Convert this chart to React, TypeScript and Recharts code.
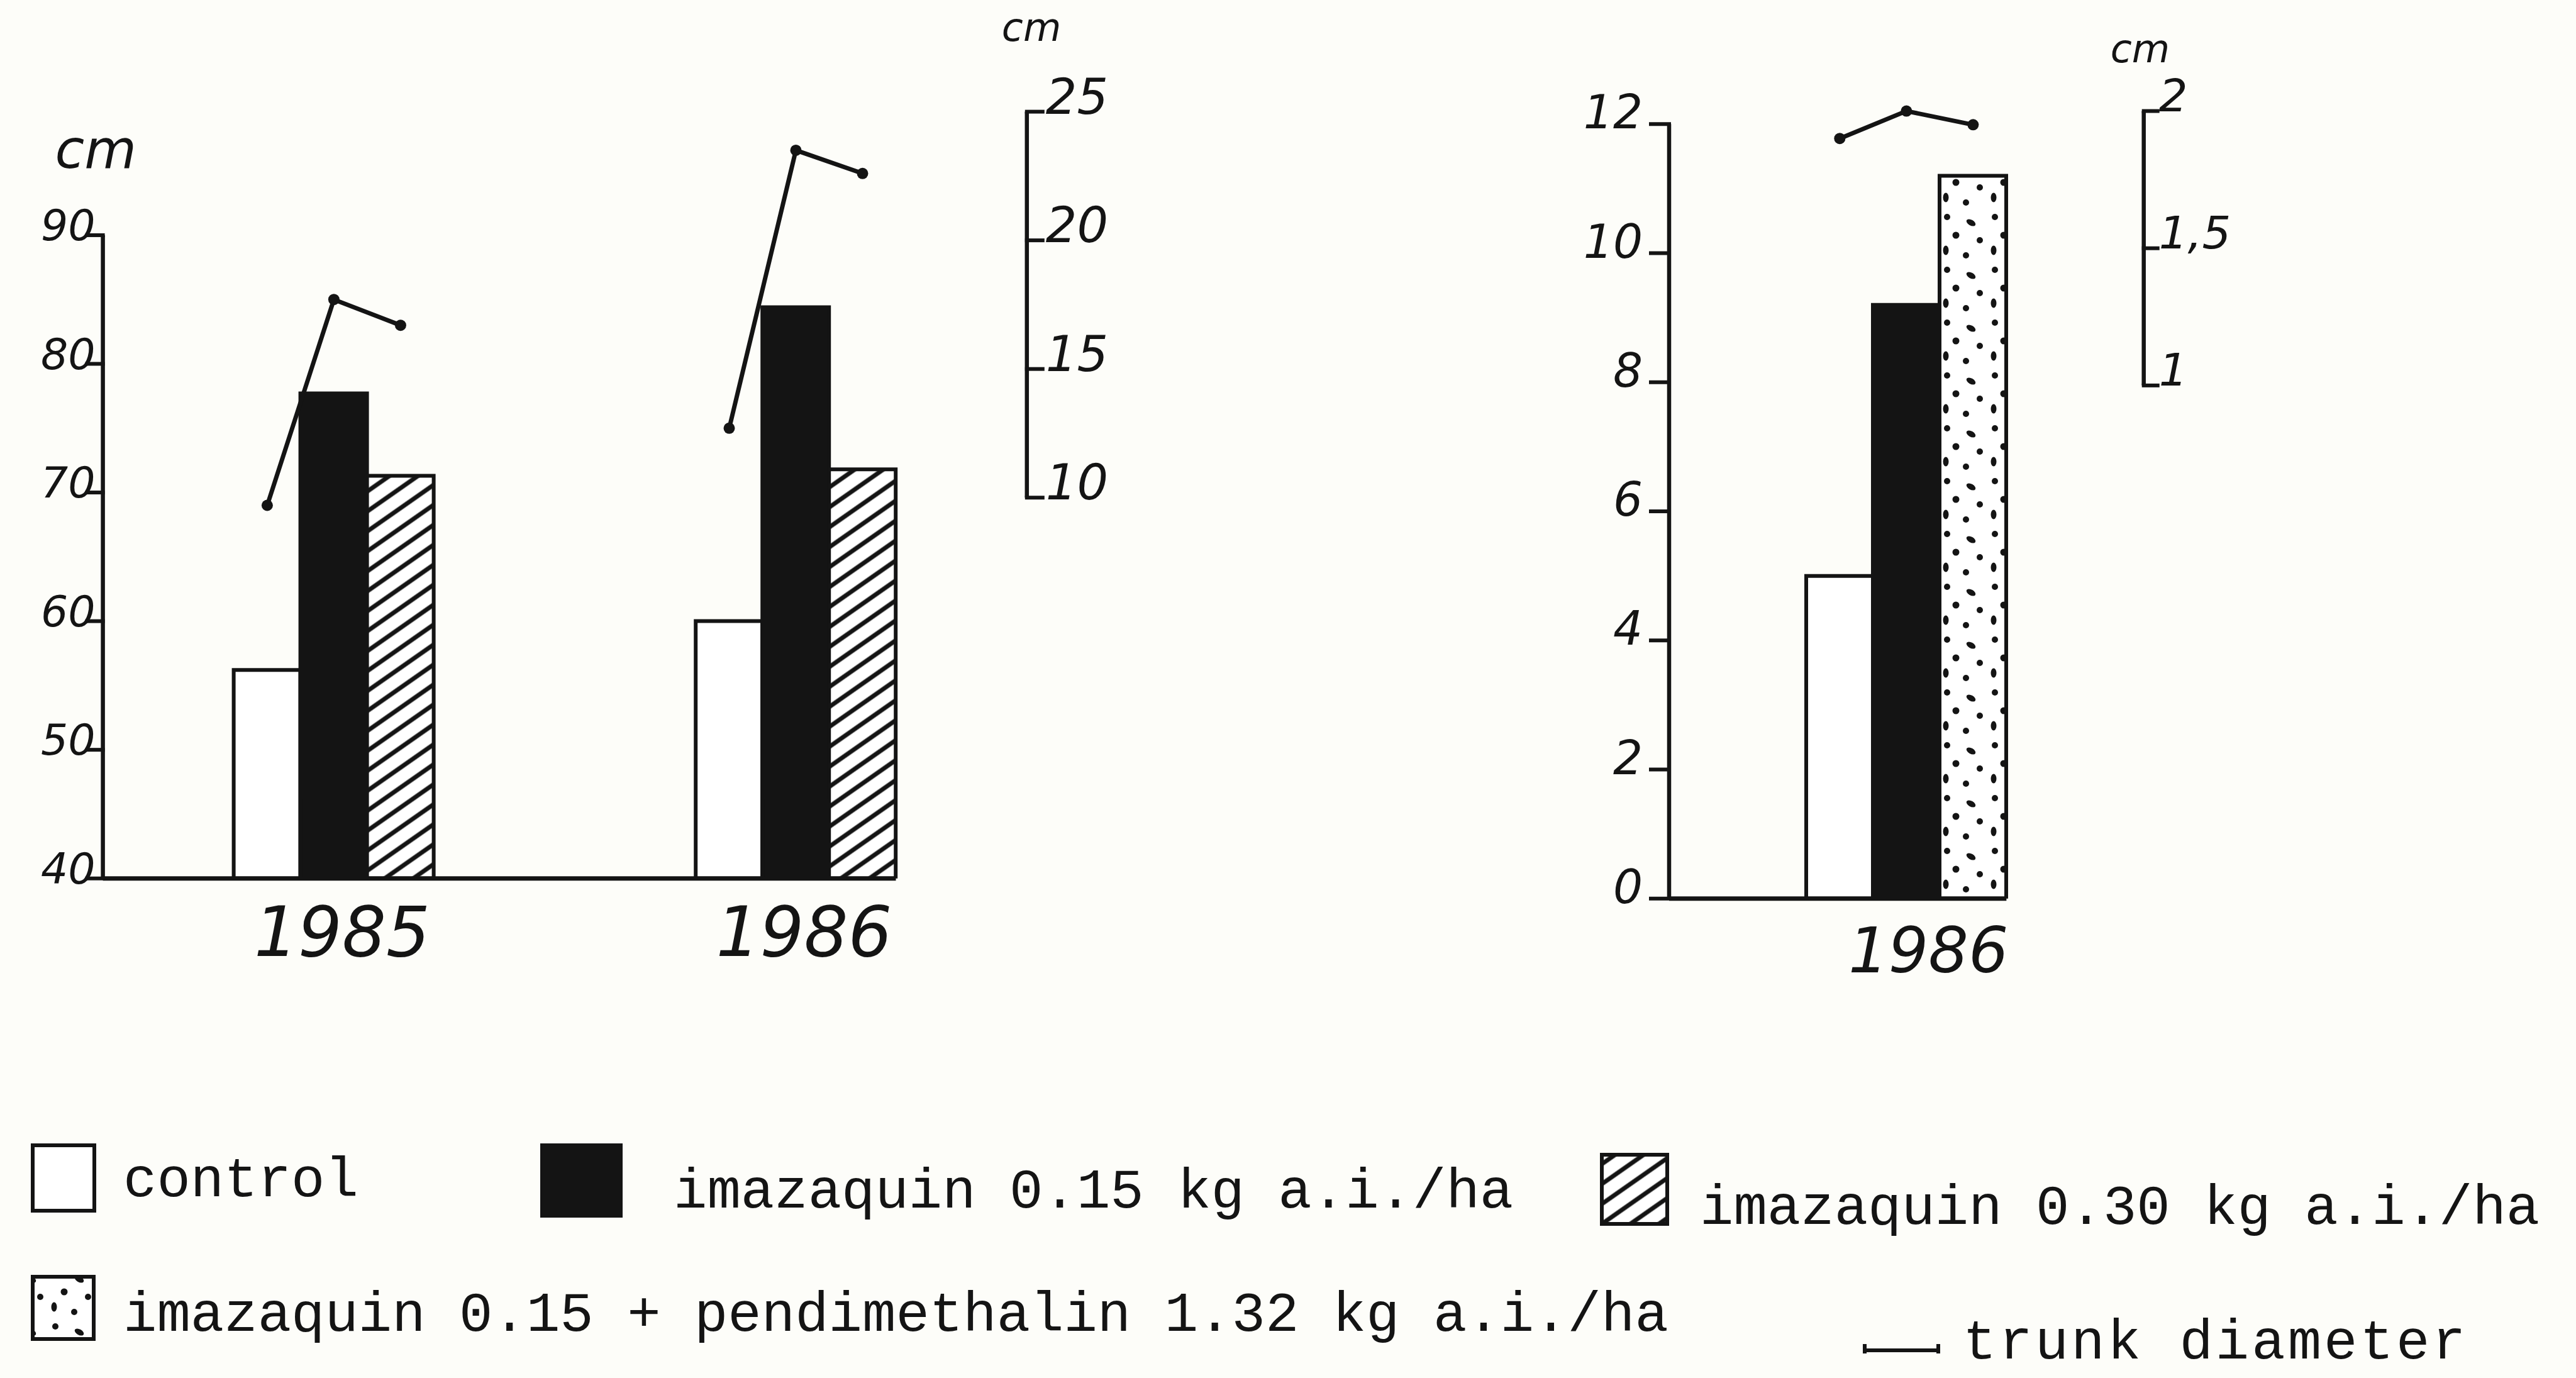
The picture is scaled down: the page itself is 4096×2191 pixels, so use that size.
import React from 'react';
import { ComposedChart, Bar, XAxis, YAxis, Scatter, ReferenceLine } from 'recharts';

// plant height (cm), left panel
const years = ['1985', '1986'];
const control = [56.2, 60.0];
const ima015 = [77.7, 84.4];
const ima030 = [71.3, 71.8];
// trunk diameter (cm) for control / 0.15 / 0.30
const trunk1985 = [9.7, 17.7, 16.7];
const trunk1986 = [12.7, 23.5, 22.6];

// right panel
const years2 = ['1986'];
const control2 = [5.0];
const ima015b = [9.2];
const imaPend = [11.2];
const trunk1986b = [1.9, 2.0, 1.95];

const heightTicks = [40, 50, 60, 70, 80, 90];
const trunkTicks = [10, 15, 20, 25];
const heightTicks2 = [0, 2, 4, 6, 8, 10, 12];
const trunkTicks2 = [1, 1.5, 2];

const legendLabels = [
  'control',
  'imazaquin 0.15 kg a.i./ha',
  'imazaquin 0.30 kg a.i./ha',
  'imazaquin 0.15 + pendimethalin 1.32 kg a.i./ha',
  'trunk diameter',
];

const INK = '#141414';
const PAPER = '#fdfdf9';
const HAND = '"DejaVu Sans", sans-serif';
const TYPE = '"Liberation Mono", "DejaVu Sans Mono", monospace';
const BAR = 106;
const AXIS_W = 100;

// left panel layout
const W1 = 1900;
const H1 = 1650;
const P1 = { left: 163.6, right: 1632.8, top: 169.4, bottom: 1396.7 };
const FRAC1 = BAR / ((P1.right - P1.left) / years.length);

// right panel layout
const X2 = 2400;
const W2 = 1300;
const H2 = 1650;
const P2 = { left: 254, right: 1008.7, top: 146, bottom: 1428.8 };
const FRAC2 = BAR / ((P2.right - P2.left) / years2.length);

const leftData = years.map((year, i) => ({
  year,
  control: control[i],
  ima015: ima015[i],
  ima030: ima030[i],
}));

const rightData = years2.map((year, i) => ({
  year,
  control: control2[i],
  ima015: ima015b[i],
  pend: imaPend[i],
}));

// one point over the centre of each bar of a year group
const trunkPoints = (vals: number[], i: number, frac: number) =>
  vals.map((r, j) => ({ x: i + 0.5 + (j - 1) * frac, r }));

const Tick = (props: any) => {
  const { x, y, payload, side, len, dx, dy, size, fmt } = props;
  const s = side === 'left' ? -1 : 1;
  return (
    <g>
      <line x1={x} y1={y} x2={x + s * len} y2={y} stroke={INK} strokeWidth={6} strokeLinecap="square" />
      <text
        x={x + s * dx}
        y={y + dy}
        textAnchor={side === 'left' ? 'end' : 'start'}
        fontFamily={HAND}
        fontStyle="italic"
        fontSize={size}
        fill={INK}
      >
        {fmt ? fmt(payload.value) : payload.value}
      </text>
    </g>
  );
};

const YearTick = (props: any) => {
  const { x, y, payload, dx, dy, size } = props;
  return (
    <text x={x + dx} y={y + dy} textAnchor="middle" fontFamily={HAND} fontStyle="italic" fontSize={size} fill={INK}>
      {payload.value}
    </text>
  );
};

const Unit = (props: any) => {
  const { viewBox, dx, dy, size } = props;
  if (!viewBox) return null;
  return (
    <text x={viewBox.x + dx} y={viewBox.y + dy} fontFamily={HAND} fontStyle="italic" fontSize={size} fill={INK}>
      cm
    </text>
  );
};

const Dot = (props: any) => <circle cx={props.cx} cy={props.cy} r={9} fill={INK} />;

const Hatch = ({ id }: { id: string }) => (
  <pattern id={id} patternUnits="userSpaceOnUse" width={26} height={26} patternTransform="rotate(-35)">
    <rect width={26} height={26} fill="#fff" />
    <line x1={0} y1={13} x2={26} y2={13} stroke={INK} strokeWidth={7} />
  </pattern>
);

const Dots = ({ id }: { id: string }) => (
  <pattern id={id} patternUnits="userSpaceOnUse" width={76} height={84}>
    <rect width={76} height={84} fill="#fff" />
    <circle cx={12} cy={9} r={5} fill={INK} />
    <ellipse cx={50} cy={18} rx={8} ry={4.5} fill={INK} transform="rotate(30 50 18)" />
    <circle cx={26} cy={38} r={5.5} fill={INK} />
    <circle cx={64} cy={46} r={5} fill={INK} />
    <ellipse cx={10} cy={62} rx={4.5} ry={7.5} fill={INK} />
    <circle cx={42} cy={70} r={5} fill={INK} />
  </pattern>
);

const line = { stroke: INK, strokeWidth: 7 };

const App: React.FC = () => {
  const m1 = {
    top: P1.top,
    left: P1.left - AXIS_W,
    right: W1 - P1.right - AXIS_W,
    bottom: H1 - P1.bottom - 130,
  };
  const m2 = {
    top: P2.top,
    left: P2.left - AXIS_W,
    right: W2 - P2.right - AXIS_W,
    bottom: H2 - P2.bottom - 130,
  };

  return (
    <div style={{ position: 'absolute', left: 0, top: 0, width: 4096, height: 2191, background: PAPER, overflow: 'hidden' }}>
      {/* Height and trunk diameter, 1985-1986 */}
      <div style={{ position: 'absolute', left: 0, top: 0 }}>
        <ComposedChart width={W1} height={H1} data={leftData} margin={m1} barGap={0}>
          <defs>
            <Hatch id="hatchL" />
          </defs>
          <XAxis
            xAxisId="cat"
            dataKey="year"
            axisLine={false}
            tickLine={false}
            tickSize={0}
            tickMargin={0}
            height={130}
            tick={(p: any) => <YearTick {...p} dx={13} dy={123} size={110} />}
          />
          <XAxis xAxisId="num" type="number" dataKey="x" domain={[0, years.length]} allowDataOverflow hide />
          <YAxis
            yAxisId="h"
            domain={[40, 100]}
            ticks={heightTicks}
            interval={0}
            allowDataOverflow
            axisLine={false}
            tickLine={false}
            tickSize={0}
            tickMargin={0}
            width={AXIS_W}
            tick={(p: any) => <Tick {...p} side="left" len={25} dx={12} dy={8} size={68} />}
            label={<Unit dx={24} dy={98} size={85} />}
          />
          <YAxis
            yAxisId="t"
            orientation="right"
            domain={[-4.8, 25.2]}
            ticks={trunkTicks}
            interval={0}
            allowDataOverflow
            axisLine={false}
            tickLine={false}
            tickSize={0}
            tickMargin={0}
            width={AXIS_W}
            tick={(p: any) => <Tick {...p} side="right" len={25} dx={30} dy={3} size={78} />}
            label={<Unit dx={-40} dy={-104} size={62} />}
          />
          <Bar xAxisId="cat" yAxisId="h" dataKey="control" fill="#fff" stroke={INK} strokeWidth={6} barSize={BAR} isAnimationActive={false} />
          <Bar xAxisId="cat" yAxisId="h" dataKey="ima015" fill={INK} stroke={INK} strokeWidth={6} barSize={BAR} isAnimationActive={false} />
          <Bar xAxisId="cat" yAxisId="h" dataKey="ima030" fill="url(#hatchL)" stroke={INK} strokeWidth={6} barSize={BAR} isAnimationActive={false} />
          <ReferenceLine xAxisId="num" yAxisId="h" segment={[{ x: 0, y: 40 }, { x: 0, y: 90 }]} stroke={INK} strokeWidth={6.5} ifOverflow="visible" />
          <ReferenceLine
            xAxisId="num"
            yAxisId="h"
            segment={[{ x: 0, y: 40 }, { x: years.length - 0.5 + 1.5 * FRAC1, y: 40 }]}
            stroke={INK}
            strokeWidth={7}
            ifOverflow="visible"
          />
          <ReferenceLine xAxisId="num" yAxisId="t" segment={[{ x: years.length, y: 10 }, { x: years.length, y: 25 }]} stroke={INK} strokeWidth={6.5} ifOverflow="visible" />
          <Scatter xAxisId="num" yAxisId="t" data={trunkPoints(trunk1985, 0, FRAC1)} dataKey="r" line={line} lineType="joint" shape={Dot} isAnimationActive={false} />
          <Scatter xAxisId="num" yAxisId="t" data={trunkPoints(trunk1986, 1, FRAC1)} dataKey="r" line={line} lineType="joint" shape={Dot} isAnimationActive={false} />
        </ComposedChart>
      </div>

      {/* 1986 panel with pendimethalin */}
      <div style={{ position: 'absolute', left: X2, top: 0 }}>
        <ComposedChart width={W2} height={H2} data={rightData} margin={m2} barGap={0}>
          <defs>
            <Dots id="dotsR" />
          </defs>
          <XAxis
            xAxisId="cat"
            dataKey="year"
            axisLine={false}
            tickLine={false}
            tickSize={0}
            tickMargin={0}
            height={130}
            tick={(p: any) => <YearTick {...p} dx={35} dy={117} size={100} />}
          />
          <XAxis xAxisId="num" type="number" dataKey="x" domain={[0, years2.length]} allowDataOverflow hide />
          <YAxis
            yAxisId="h"
            domain={[0, 12.5]}
            ticks={heightTicks2}
            interval={0}
            allowDataOverflow
            axisLine={false}
            tickLine={false}
            tickSize={0}
            tickMargin={0}
            width={AXIS_W}
            tick={(p: any) => <Tick {...p} side="left" len={29} dx={42} dy={7} size={74} />}
          />
          <YAxis
            yAxisId="t"
            orientation="right"
            domain={[-0.87, 2.07]}
            ticks={trunkTicks2}
            interval={0}
            allowDataOverflow
            axisLine={false}
            tickLine={false}
            tickSize={0}
            tickMargin={0}
            width={AXIS_W}
            tick={(p: any) => <Tick {...p} side="right" len={22} dx={24} dy={0} size={72} fmt={(v: number) => String(v).replace('.', ',')} />}
            label={<Unit dx={-53} dy={-47} size={62} />}
          />
          <Bar xAxisId="cat" yAxisId="h" dataKey="control" fill="#fff" stroke={INK} strokeWidth={6} barSize={BAR} isAnimationActive={false} />
          <Bar xAxisId="cat" yAxisId="h" dataKey="ima015" fill={INK} stroke={INK} strokeWidth={6} barSize={BAR} isAnimationActive={false} />
          <Bar xAxisId="cat" yAxisId="h" dataKey="pend" fill="url(#dotsR)" stroke={INK} strokeWidth={6} barSize={BAR} isAnimationActive={false} />
          <ReferenceLine xAxisId="num" yAxisId="h" segment={[{ x: 0, y: 0 }, { x: 0, y: 12 }]} stroke={INK} strokeWidth={6.5} ifOverflow="visible" />
          <ReferenceLine
            xAxisId="num"
            yAxisId="h"
            segment={[{ x: 0, y: 0 }, { x: 0.5 + 1.5 * FRAC2, y: 0 }]}
            stroke={INK}
            strokeWidth={7}
            ifOverflow="visible"
          />
          <ReferenceLine xAxisId="num" yAxisId="t" segment={[{ x: years2.length, y: 1 }, { x: years2.length, y: 2 }]} stroke={INK} strokeWidth={6.5} ifOverflow="visible" />
          <Scatter xAxisId="num" yAxisId="t" data={trunkPoints(trunk1986b, 0, FRAC2)} dataKey="r" line={line} lineType="joint" shape={Dot} isAnimationActive={false} />
        </ComposedChart>
      </div>

      {/* legend */}
      <svg style={{ position: 'absolute', left: 0, top: 0 }} width={4096} height={2191}>
        <defs>
          <Hatch id="hatchLeg" />
          <Dots id="dotsLeg" />
        </defs>
        <g fontFamily={TYPE} fontSize={89} fill={INK}>
          <rect x={52} y={1821} width={98} height={104} fill="#fff" stroke={INK} strokeWidth={6} />
          <text x={196} y={1902}>{legendLabels[0]}</text>
          <rect x={862} y={1821} width={125} height={112} fill={INK} stroke={INK} strokeWidth={6} />
          <text x={1071} y={1920}>{legendLabels[1]}</text>
          <rect x={2547} y={1836} width={104} height={110} fill="url(#hatchLeg)" stroke={INK} strokeWidth={6} />
          <text x={2703} y={1946}>{legendLabels[2]}</text>
          <rect x={52} y={2030} width={97} height={99} fill="url(#dotsLeg)" stroke={INK} strokeWidth={6} />
          <text x={196} y={2116}>{legendLabels[3]}</text>
          <path d="M2965 2137 V2152 M2965 2147 H3082 M3082 2137 V2152" stroke={INK} strokeWidth={6} fill="none" />
          <text x={3121} y={2160} letterSpacing={4}>{legendLabels[4]}</text>
        </g>
      </svg>
    </div>
  );
};

export default App;
